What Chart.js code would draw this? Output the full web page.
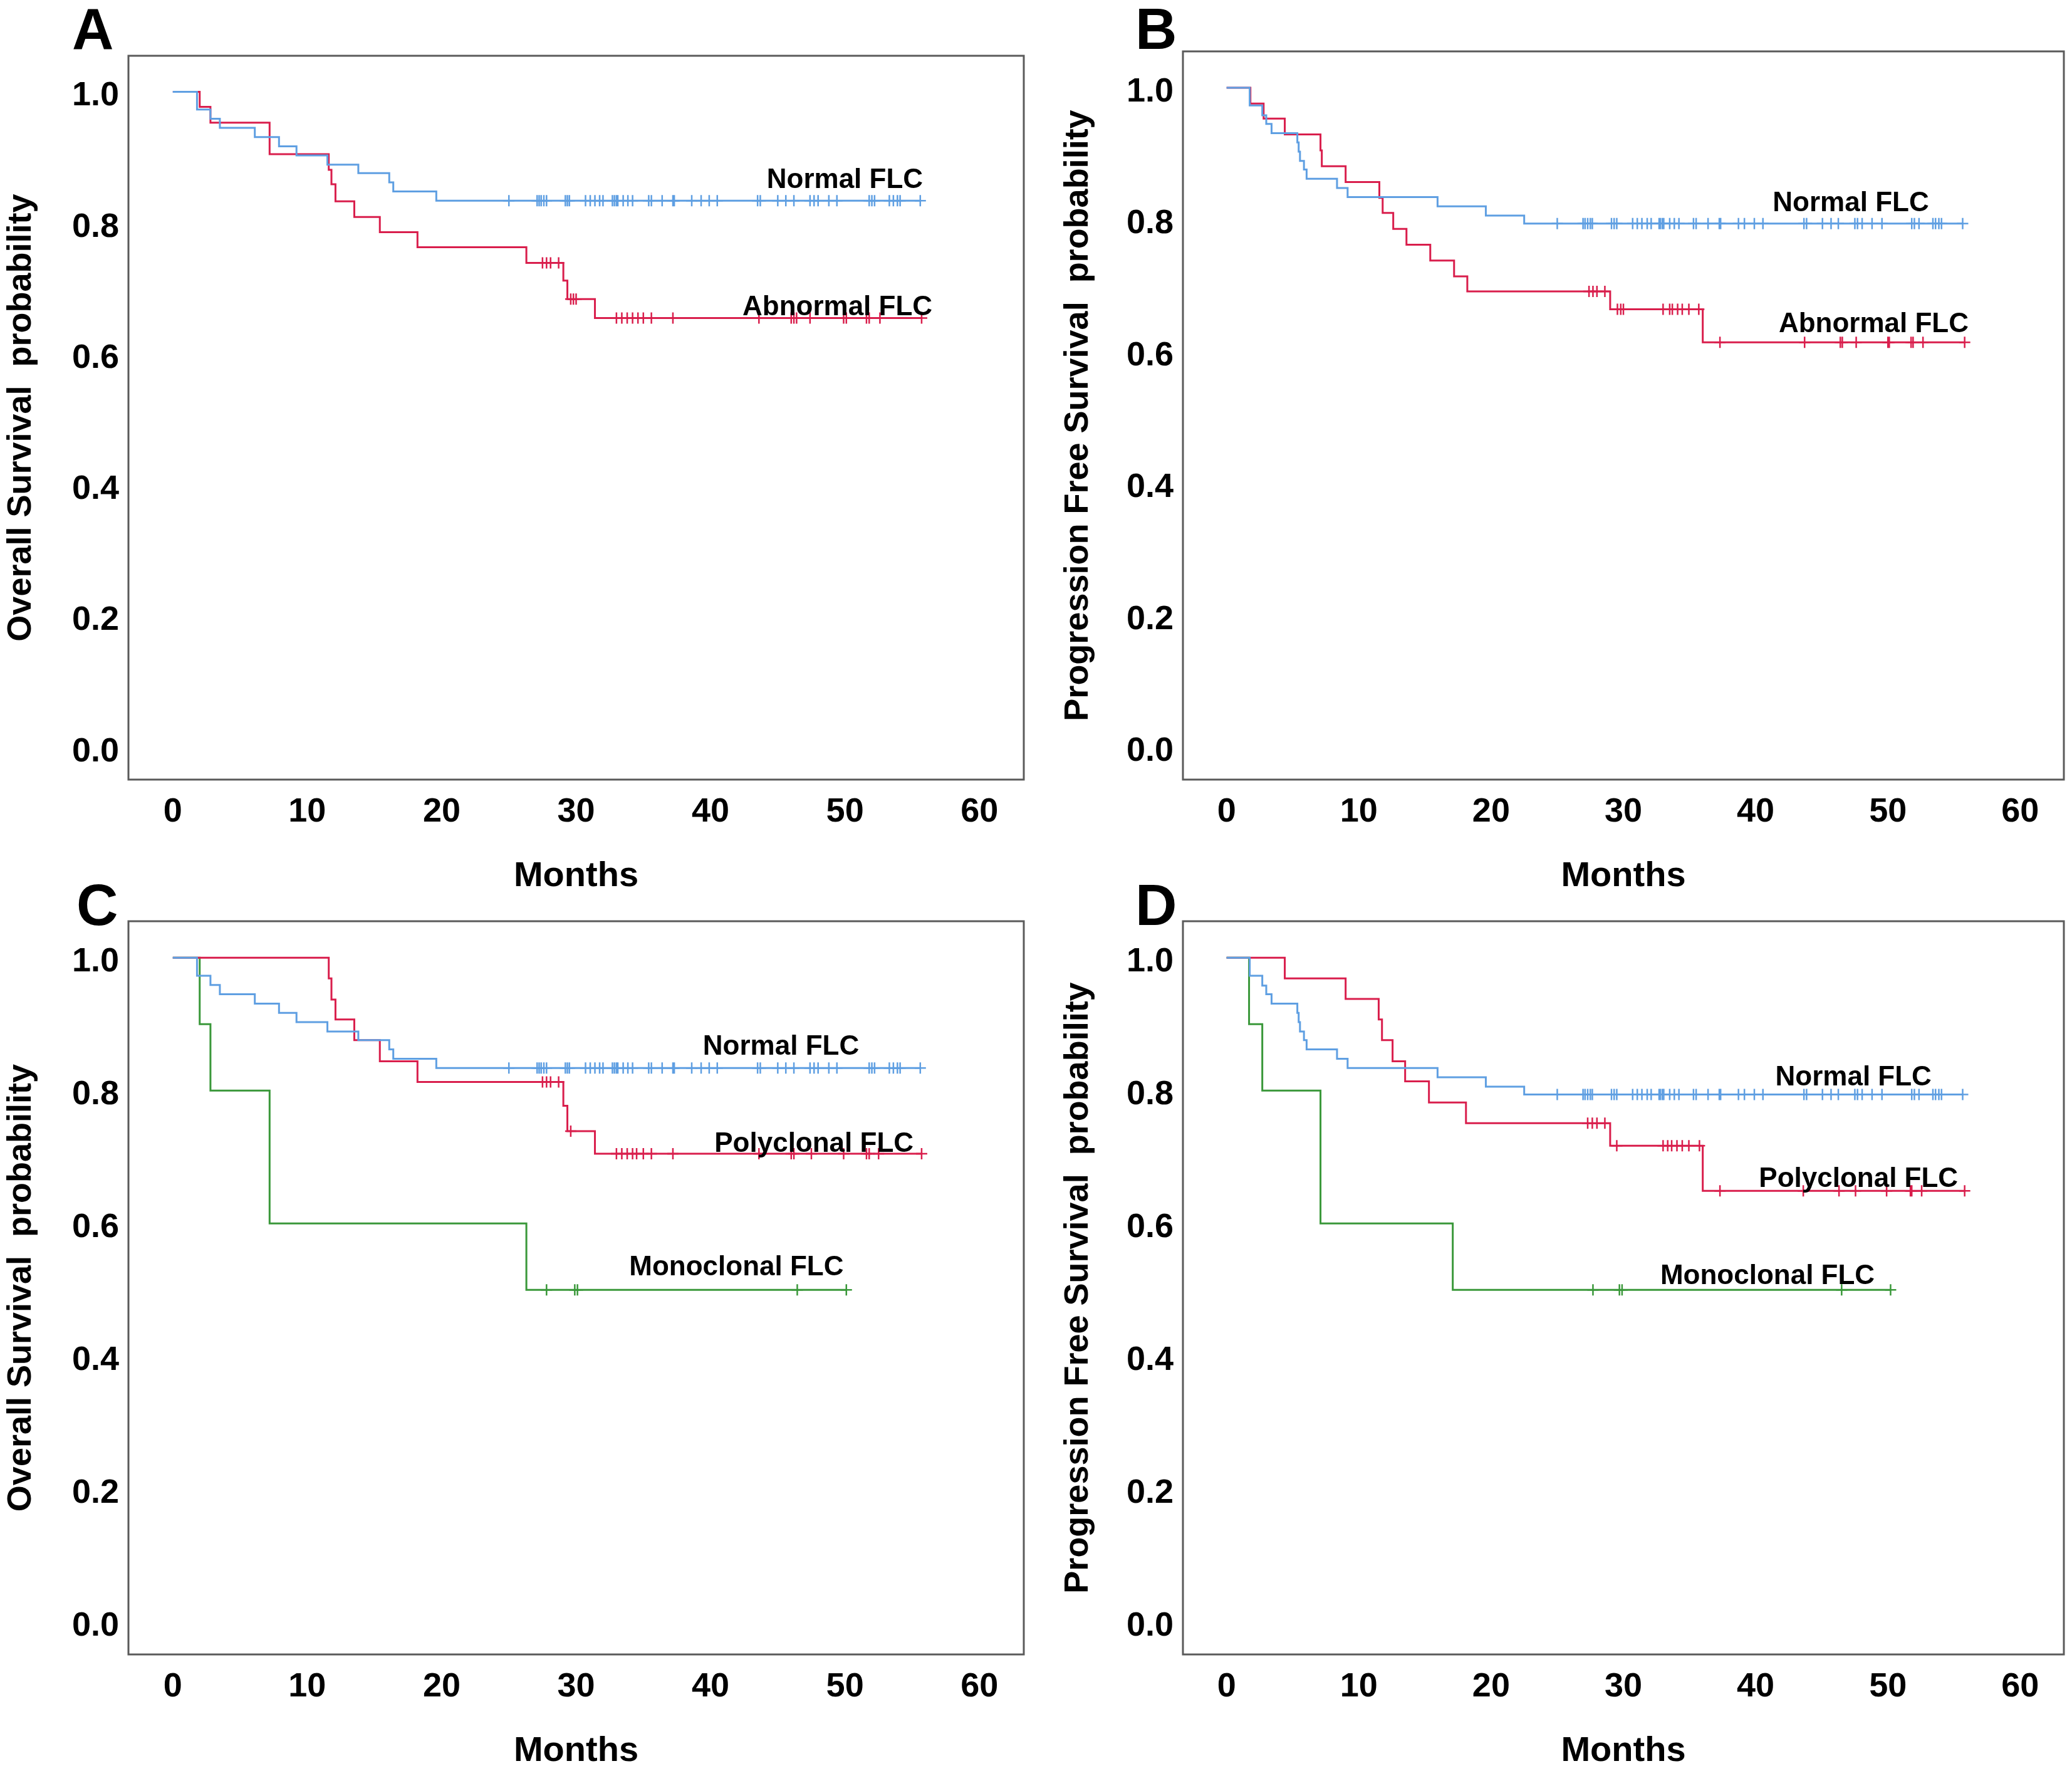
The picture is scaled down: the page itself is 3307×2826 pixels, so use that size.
<!DOCTYPE html>
<html lang="en">
<head>
<meta charset="UTF-8">
<title>FLC survival curves</title>
<style>
  * { margin: 0; padding: 0; box-sizing: border-box; }
  body {
    width: 3307px;
    height: 2826px;
    background: #fff;
    position: relative;
    overflow: hidden;
    font-family: "Liberation Sans", Arial, sans-serif;
  }
  canvas { position: absolute; }
  .letter {
    position: absolute;
    font-weight: bold;
    font-size: 92px;
    line-height: 1;
    color: #000;
    z-index: 2;
  }
</style>
</head>
<body>
<canvas id="chartA" width="1654" height="1430" style="left:0;top:0"></canvas>
<canvas id="chartB" width="1653" height="1430" style="left:1654px;top:0"></canvas>
<canvas id="chartC" width="1654" height="1426" style="left:0;top:1400px"></canvas>
<canvas id="chartD" width="1653" height="1426" style="left:1654px;top:1400px"></canvas>

<div class="letter" style="left:115px;top:0">A</div>
<div class="letter" style="left:1812px;top:0">B</div>
<div class="letter" style="left:122px;top:1398px">C</div>
<div class="letter" style="left:1812px;top:1398px">D</div>

<script src="https://cdn.jsdelivr.net/npm/chart.js"></script>
<script>
// axis ticks
const xTicks = [0, 10, 20, 30, 40, 50, 60];
const yTicks = [0, 0.2, 0.4, 0.6, 0.8, 1.0];

// --- overall survival (months, survival after each event, censored times) ---
const osNormalT = [1.8, 2.8, 3.5, 6.1, 7.9, 9.2, 11.5, 13.8, 16.1, 16.4, 19.6];
const osNormalS = [0.973, 0.959, 0.945, 0.931, 0.917, 0.903, 0.889, 0.876, 0.862, 0.848, 0.834];
const osNormalCens = [25.0, 27.1, 27.25, 27.4, 27.6, 27.8, 29.2, 29.35, 29.5, 30.7, 31.05, 31.4, 31.75, 32.0,
  32.7, 32.85, 33.0, 33.1, 33.5, 33.85, 34.2, 35.4, 35.6, 36.4, 37.2, 37.3, 38.6, 39.3, 39.9, 40.5,
  43.5, 43.7, 45.0, 45.6, 46.2, 47.4, 47.7, 48.0, 48.8, 49.4, 51.8, 52.0, 52.2, 53.3, 53.6, 53.9, 54.1, 55.6];

const osAbnT = [2.0, 2.8, 7.2, 11.6, 11.8, 12.1, 13.5, 15.4, 18.2, 26.3, 29.05, 29.35, 31.4];
const osAbnS = [0.977, 0.953, 0.905, 0.881, 0.859, 0.833, 0.809, 0.786, 0.763, 0.739, 0.712, 0.684, 0.655];
const osAbnCens = [27.5, 27.8, 28.1, 28.7, 29.6, 29.8, 30.0, 33.0, 33.4, 33.8, 34.2, 34.6, 35.0, 35.6, 37.2,
  43.6, 46.0, 46.2, 46.4, 47.4, 49.9, 50.1, 51.6, 51.8, 52.6, 55.7];

const osPolyT = [11.6, 11.8, 12.1, 13.5, 15.4, 18.2, 29.05, 29.35, 31.4];
const osPolyS = [0.969, 0.937, 0.907, 0.876, 0.844, 0.813, 0.777, 0.739, 0.705];
const osPolyCens = [27.5, 27.8, 28.1, 28.7, 29.6, 33.0, 33.4, 33.8, 34.2, 34.5, 35.0, 35.6, 37.2,
  43.6, 46.0, 46.2, 47.5, 49.9, 51.6, 51.8, 52.5, 55.7];

const osMonoT = [2.0, 2.8, 7.2, 26.3];
const osMonoS = [0.9, 0.8, 0.6, 0.5];
const osMonoCens = [27.8, 29.9, 30.1, 46.45, 50.1];

// --- progression free survival ---
const pfsNormalT = [1.75, 2.7, 3.0, 3.4, 5.35, 5.45, 5.55, 5.85, 6.05, 8.35, 9.15, 15.95, 19.6, 22.5];
const pfsNormalS = [0.973, 0.958, 0.945, 0.931, 0.917, 0.903, 0.889, 0.876, 0.862, 0.848, 0.834, 0.820, 0.806, 0.794];
const pfsNormalCens = [25.0, 26.95, 27.1, 27.3, 27.5, 27.65, 29.1, 29.3, 29.5, 30.7, 31.05, 31.4, 31.8, 32.1,
  32.7, 32.8, 32.95, 33.05, 33.5, 33.85, 34.2, 35.3, 35.5, 36.4, 37.25, 37.35, 38.7, 39.15, 39.9, 40.55,
  43.65, 43.85, 45.05, 45.7, 46.25, 47.5, 47.7, 48.05, 48.8, 49.55, 51.8, 52.0, 52.35, 53.4, 53.6, 53.85, 54.05, 55.65];

const pfsAbnT = [1.8, 2.8, 4.4, 7.1, 7.2, 9.0, 11.55, 11.8, 12.6, 13.6, 15.4, 17.2, 18.2, 29.0, 36.0];
const pfsAbnS = [0.976, 0.953, 0.929, 0.905, 0.881, 0.857, 0.833, 0.810, 0.786, 0.762, 0.738, 0.714, 0.691, 0.664, 0.614];
const pfsAbnCens = [27.4, 27.7, 28.0, 28.6, 29.55, 29.8, 30.0, 33.0, 33.5, 33.7, 34.1, 34.45, 34.95, 35.7,
  37.3, 43.7, 46.4, 46.55, 47.6, 50.0, 50.1, 51.75, 51.9, 52.65, 55.8];

const pfsPolyT = [4.4, 9.0, 11.5, 11.75, 12.55, 13.5, 15.3, 18.1, 29.0, 36.0];
const pfsPolyS = [0.969, 0.938, 0.907, 0.876, 0.844, 0.814, 0.782, 0.751, 0.717, 0.649];
const pfsPolyCens = [27.3, 27.65, 28.0, 28.6, 29.5, 33.0, 33.35, 33.65, 34.05, 34.45, 34.95, 35.75,
  37.3, 43.6, 46.3, 47.55, 49.9, 51.7, 51.8, 52.55, 55.8];

const pfsMonoT = [1.7, 2.7, 7.1, 17.1];
const pfsMonoS = [0.9, 0.8, 0.6, 0.5];
const pfsMonoCens = [27.7, 29.7, 29.9, 46.5, 50.2];

const blue = '#5f9fe2';
const red = '#d91e4c';
const green = '#3a983a';
const fontFamily = '"Liberation Sans", Arial, sans-serif';

Chart.defaults.font.family = fontFamily;

// step curve: start at (0,1), then each event, then flat to the last follow-up
function stepCurve(times, surv, cens) {
  const pts = [{x: 0, y: 1}];
  times.forEach((t, i) => pts.push({x: t, y: surv[i]}));
  const end = Math.max(cens[cens.length - 1], times[times.length - 1]);
  pts.push({x: end, y: surv[surv.length - 1]});
  return pts;
}

function levelAt(times, surv, t) {
  let s = 1;
  times.forEach((tt, i) => { if (tt <= t) s = surv[i]; });
  return s;
}

function groupSets(times, surv, cens, color) {
  return [
    {
      data: stepCurve(times, surv, cens),
      stepped: 'before',
      borderColor: color,
      borderWidth: 3,
      pointRadius: 0,
      fill: false
    },
    {
      data: cens.map(t => ({x: t, y: levelAt(times, surv, t)})),
      showLine: false,
      pointStyle: 'cross',
      pointRadius: 9,
      borderColor: color,
      borderWidth: 2.5
    }
  ];
}

// box around the plot area
const frame = {
  id: 'frame',
  beforeDatasetsDraw(chart) {
    const {ctx, chartArea: a} = chart;
    ctx.save();
    ctx.strokeStyle = '#5a5a5a';
    ctx.lineWidth = 3;
    ctx.strokeRect(a.left, a.top, a.right - a.left, a.bottom - a.top);
    ctx.restore();
  }
};

// group names written next to the curves
const curveLabels = {
  id: 'curveLabels',
  afterDatasetsDraw(chart, args, opts) {
    const {ctx, scales: {x, y}} = chart;
    ctx.save();
    ctx.font = 'bold 44px ' + fontFamily;
    ctx.fillStyle = '#000';
    ctx.textAlign = 'right';
    ctx.textBaseline = 'alphabetic';
    (opts.items || []).forEach(it => {
      ctx.fillText(it.text, x.getPixelForValue(it.x), y.getPixelForValue(it.y) + 16);
    });
    ctx.restore();
  }
};

function makePanel(id, yTitle, sets, labels, box) {
  new Chart(document.getElementById(id), {
    type: 'line',
    data: { datasets: sets },
    options: {
      responsive: false,
      animation: false,
      devicePixelRatio: 1,
      layout: { padding: { left: 0, top: box.top, right: box.right, bottom: 0 } },
      plugins: {
        legend: { display: false },
        tooltip: { enabled: false },
        curveLabels: { items: labels }
      },
      scales: {
        x: {
          type: 'linear',
          min: -3.3,
          max: 63.3,
          afterBuildTicks: s => { s.ticks = xTicks.map(v => ({value: v})); },
          afterFit: s => { s.height = box.xAxisH; },
          grid: { display: false, drawTicks: false },
          border: { display: false },
          ticks: {
            color: '#000',
            padding: 20,
            font: { size: 54, weight: 'bold' },
            callback: v => String(v)
          },
          title: {
            display: true,
            text: 'Months',
            color: '#000',
            font: { size: 56, weight: 'bold', lineHeight: 1 },
            padding: { top: 0, bottom: 3 }
          }
        },
        y: {
          min: -0.049,
          max: 1.055,
          afterBuildTicks: s => { s.ticks = yTicks.map(v => ({value: v})); },
          afterFit: s => { s.width = box.yAxisW; },
          grid: { display: false, drawTicks: false },
          border: { display: false },
          ticks: {
            color: '#000',
            padding: 15,
            labelOffset: 7,
            font: { size: 54, weight: 'bold' },
            callback: v => v.toFixed(1)
          },
          title: {
            display: true,
            text: yTitle,
            color: '#000',
            font: { size: 54, weight: 'bold', lineHeight: 1 },
            padding: { top: box.yTitlePad, bottom: 0 }
          }
        }
      }
    },
    plugins: [frame, curveLabels]
  });
}

makePanel('chartA', 'Overall Survival  probability',
  [...groupSets(osNormalT, osNormalS, osNormalCens, blue),
   ...groupSets(osAbnT, osAbnS, osAbnCens, red)],
  [{text: 'Normal FLC', x: 55.8, y: 0.869},
   {text: 'Abnormal FLC', x: 56.5, y: 0.675}],
  {top: 89, right: 20, xAxisH: 186, yAxisW: 205, yTitlePad: 7});

makePanel('chartB', 'Progression Free Survival  probability',
  [...groupSets(pfsNormalT, pfsNormalS, pfsNormalCens, blue),
   ...groupSets(pfsAbnT, pfsAbnS, pfsAbnCens, red)],
  [{text: 'Normal FLC', x: 53.1, y: 0.828},
   {text: 'Abnormal FLC', x: 56.1, y: 0.645}],
  {top: 82, right: 13, xAxisH: 186, yAxisW: 234, yTitlePad: 40});

makePanel('chartC', 'Overall Survival  probability',
  [...groupSets(osNormalT, osNormalS, osNormalCens, blue),
   ...groupSets(osPolyT, osPolyS, osPolyCens, red),
   ...groupSets(osMonoT, osMonoS, osMonoCens, green)],
  [{text: 'Normal FLC', x: 51.05, y: 0.869},
   {text: 'Polyclonal FLC', x: 55.1, y: 0.723},
   {text: 'Monoclonal FLC', x: 49.9, y: 0.537}],
  {top: 70, right: 20, xAxisH: 186, yAxisW: 205, yTitlePad: 7});

makePanel('chartD', 'Progression Free Survival  probability',
  [...groupSets(pfsNormalT, pfsNormalS, pfsNormalCens, blue),
   ...groupSets(pfsPolyT, pfsPolyS, pfsPolyCens, red),
   ...groupSets(pfsMonoT, pfsMonoS, pfsMonoCens, green)],
  [{text: 'Normal FLC', x: 53.3, y: 0.823},
   {text: 'Polyclonal FLC', x: 55.3, y: 0.670},
   {text: 'Monoclonal FLC', x: 49.0, y: 0.524}],
  {top: 70, right: 13, xAxisH: 186, yAxisW: 234, yTitlePad: 40});
</script>
</body>
</html>
